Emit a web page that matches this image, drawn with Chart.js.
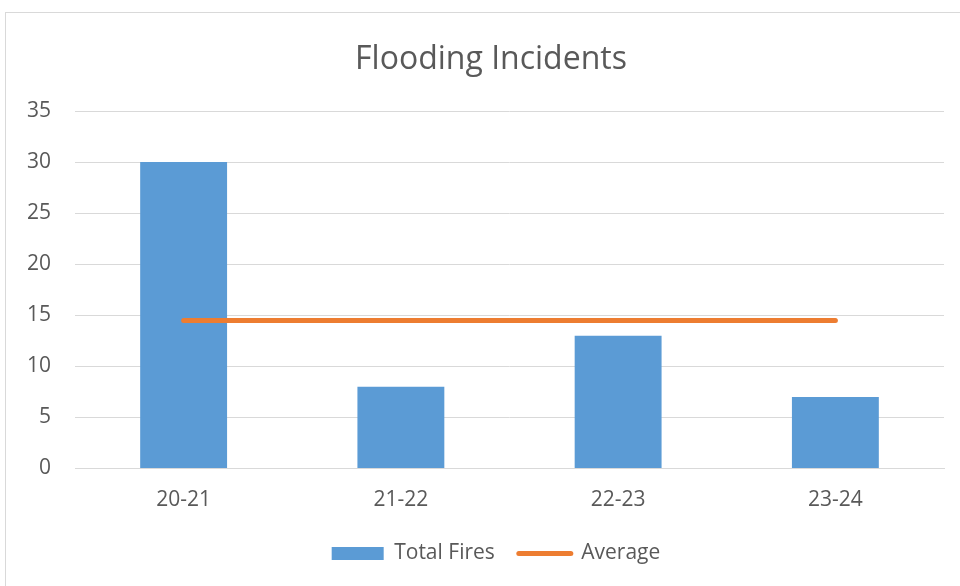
<!DOCTYPE html>
<html>
<head>
<meta charset="utf-8">
<script src="https://cdn.jsdelivr.net/npm/chart.js@4/dist/chart.umd.min.js"></script>
<style>
  html, body { margin: 0; padding: 0; background: #ffffff; }
  #wrap { position: relative; width: 960px; height: 586px; }
</style>
</head>
<body>
<div id="wrap"><canvas id="c" width="960" height="586"></canvas></div>
<script>
const categories = ['20-21', '21-22', '22-23', '23-24'];
const totalFires = [30, 8, 13, 7];
const average = [14.5, 14.5, 14.5, 14.5];
const chartTitle = 'Flooding Incidents';
const seriesNames = ['Total Fires', 'Average'];

const FONT = "'Open Sans', 'Noto Sans', sans-serif";
const TEXT = '#595959';
const GRID = '#d9d9d9';
const BLUE = '#5b9bd5';
const ORANGE = '#ed7d31';

const frame = {
  id: 'frame',
  beforeDraw(chart) {
    const ctx = chart.ctx;
    ctx.save();
    ctx.fillStyle = '#ffffff';
    ctx.fillRect(0, 0, chart.width, chart.height);
    ctx.strokeStyle = GRID;
    ctx.lineWidth = 1;
    ctx.strokeRect(5.5, 12.5, 1200, 1200);
    ctx.restore();
  }
};

const boxShift = {
  id: 'boxShift',
  afterLayout(chart) {
    if (chart.legend) {
      chart.legend.left += 24;
      chart.legend.right += 24;
    }
    if (chart.titleBlock) {
      chart.titleBlock.left += 19;
      chart.titleBlock.right += 19;
    }
  }
};

new Chart(document.getElementById('c'), {
  type: 'bar',
  data: {
    labels: categories,
    datasets: [
      {
        type: 'bar',
        label: seriesNames[0],
        data: totalFires,
        backgroundColor: BLUE,
        borderWidth: 0,
        barPercentage: 0.4,
        categoryPercentage: 1.0,
        order: 1
      },
      {
        type: 'line',
        label: seriesNames[1],
        data: average,
        borderColor: ORANGE,
        backgroundColor: ORANGE,
        borderWidth: 5,
        borderCapStyle: 'round',
        pointRadius: 0,
        fill: false,
        tension: 0,
        order: 0
      }
    ]
  },
  options: {
    responsive: false,
    animation: false,
    events: [],
    layout: { padding: { left: 0, right: 16, top: 0, bottom: 12 } },
    plugins: {
      title: {
        display: true,
        text: chartTitle,
        color: TEXT,
        font: { family: FONT, size: 32, weight: 'normal' },
        padding: { top: 40.8, bottom: 31.8 }
      },
      legend: {
        position: 'bottom',
        labels: {
          color: TEXT,
          font: { family: FONT, size: 21 },
          usePointStyle: true,
          pointStyleWidth: 52,
          boxHeight: 13,
          padding: 24,
          sort: (a, b) => a.datasetIndex - b.datasetIndex,
          generateLabels(chart) {
            const items = Chart.defaults.plugins.legend.labels.generateLabels(chart);
            items.forEach(it => {
              if (it.datasetIndex === 0) {
                it.pointStyle = 'rect';
                it.lineWidth = 0;
                it.fillStyle = BLUE;
              } else {
                it.pointStyle = 'line';
                it.strokeStyle = ORANGE;
                it.lineWidth = 5;
                it.lineCap = 'round';
              }
            });
            return items;
          }
        }
      },
      tooltip: { enabled: false }
    },
    scales: {
      x: {
        grid: { display: false, drawTicks: false },
        border: { display: true, color: GRID, width: 1 },
        ticks: { color: TEXT, font: { family: FONT, size: 21 }, padding: 19 },
        afterFit(scale) { scale.height = 50.5; }
      },
      y: {
        min: 0,
        max: 35,
        ticks: { stepSize: 5, color: TEXT, font: { family: FONT, size: 21 }, padding: 24 },
        grid: { color: GRID, lineWidth: 1, drawTicks: false },
        border: { display: false },
        afterFit(scale) { scale.width = 75; }
      }
    }
  },
  plugins: [frame, boxShift]
});
</script>
</body>
</html>
